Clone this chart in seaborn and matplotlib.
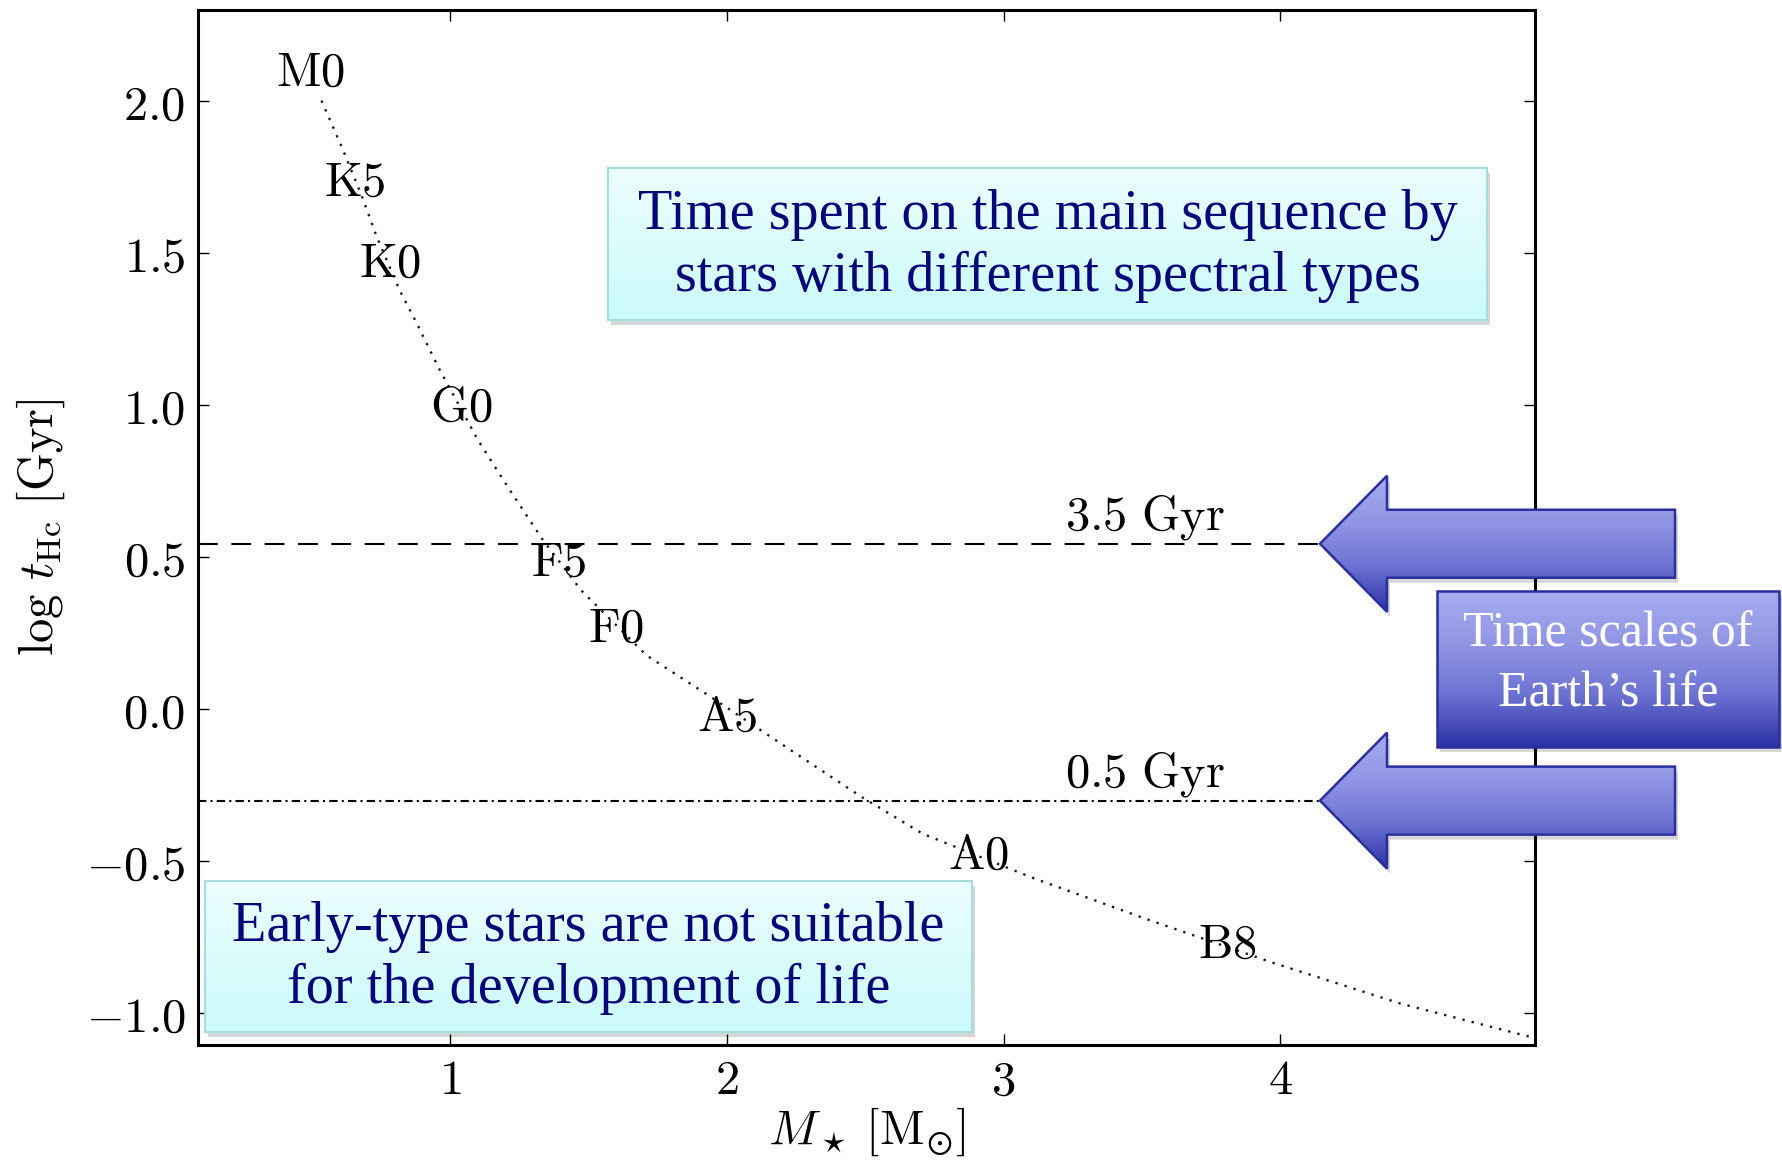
import numpy as np
import matplotlib
matplotlib.use("Agg")
import matplotlib.pyplot as plt
import seaborn as sns
from matplotlib.patches import Polygon
from matplotlib.colors import LinearSegmentedColormap
from matplotlib.ticker import FixedLocator, FuncFormatter

# ---------------- data ----------------
mass = [0.536, 0.609, 0.681, 0.736, 0.819, 0.881, 0.958, 1.102, 1.217, 1.337,
        1.475, 1.710, 1.926, 2.248, 2.489, 2.708, 3.099, 3.514, 3.975, 4.435, 4.906]
log_t = [2.002, 1.850, 1.690, 1.553, 1.377, 1.268, 1.125, 0.884, 0.720, 0.555,
         0.390, 0.177, 0.050, -0.145, -0.290, -0.410, -0.553, -0.690, -0.835, -0.969, -1.079]

spec_types = ["M0", "K5", "K0", "G0", "F5", "F0", "A5", "A0", "B8"]
spec_mass = [0.498, 0.657, 0.783, 1.04, 1.394, 1.599, 2.0, 2.91, 3.81]
spec_logt = [2.095, 1.734, 1.466, 0.993, 0.484, 0.265, -0.027, -0.481, -0.775]

life_gyr = [3.5, 0.5]
life_labels = ["3.5 Gyr", "0.5 Gyr"]
life_label_mass = [3.51, 3.51]
life_label_logt = [0.63, -0.215]

xticks = [1, 2, 3, 4]
yticks = [-1.0, -0.5, 0.0, 0.5, 1.0, 1.5, 2.0]

top_note = "Time spent on the main sequence by\nstars with different spectral types"
bottom_note = "Early-type stars are not suitable\nfor the development of life"
side_note = "Time scales of\nEarth\u2019s life"

# ---------------- style ----------------
sns.set_style("ticks")
plt.rcParams["mathtext.fontset"] = "cm"
plt.rcParams["font.family"] = ["DejaVu Serif"]
plt.rcParams["text.color"] = "black"
plt.rcParams["axes.labelcolor"] = "black"
plt.rcParams["xtick.color"] = "black"
plt.rcParams["ytick.color"] = "black"

W, H = 1782, 1162
fig = plt.figure(figsize=(W / 100, H / 100), dpi=100)
fig.patch.set_facecolor("white")

ax_l, ax_r, ax_t, ax_b = 198, 1535, 10, 1045
ax = fig.add_axes([ax_l / W, 1 - ax_b / H, (ax_r - ax_l) / W, (ax_b - ax_t) / H])

sns.lineplot(x=mass, y=log_t, ax=ax, color="#1a1a1a", lw=1.7,
             linestyle=(0, (1, 3)), sort=False, estimator=None)

styles = [(0, (9.5, 6.5)), (0, (4, 2, 1, 2))]
for v, ls in zip(life_gyr, styles):
    ax.axhline(np.log10(v), color="black", lw=1.5, linestyle=ls, zorder=1)

for s, x, y in zip(spec_types, spec_mass, spec_logt):
    ax.text(x, y, r"$\mathrm{%s}$" % s, fontsize=35, ha="center", va="center",
            color="black")

for lab, x, y in zip(life_labels, life_label_mass, life_label_logt):
    ax.text(x, y, r"$\mathrm{%s}$" % lab.replace(" ", r"\ "), fontsize=35,
            ha="center", va="center", color="black")

ax.set_xlim(0.09, 4.92)
ax.set_ylim(-1.105, 2.30)
ax.xaxis.set_major_locator(FixedLocator(xticks))
ax.yaxis.set_major_locator(FixedLocator(yticks))
ax.xaxis.set_major_formatter(FuncFormatter(lambda v, p: r"$%d$" % round(v)))
ax.yaxis.set_major_formatter(FuncFormatter(lambda v, p: r"$%.1f$" % v))
ax.tick_params(direction="in", length=8, width=1.0, top=True, right=True,
               labelsize=35, pad=9, colors="black")
for sp in ax.spines.values():
    sp.set_linewidth(2.2)
    sp.set_color("black")

xlab = r"$M_\star\;[\mathrm{M}_{" + "\u2299" + r"}]$"
ax.set_xlabel(xlab, fontsize=35)
ax.set_ylabel(r"$\log\,t_{\rm Hc}\ [\mathrm{Gyr}]$", fontsize=35)
ax.xaxis.set_label_coords(0.5, -0.058)
ax.yaxis.set_label_coords(-0.098, 0.5)

# ---------------- overlay (annotation graphics in pixel coords) ----------------
ov = fig.add_axes([0, 0, 1, 1], zorder=10)
ov.set_facecolor("none")
ov.axis("off")


def grad_shape(verts, colors, edge, lw, z, shadow=False):
    xs = [p[0] for p in verts]
    ys = [p[1] for p in verts]
    if shadow:
        sh = [(px + 3, py + 5) for px, py in verts]
        ov.add_patch(Polygon(sh, closed=True, facecolor=(0, 0, 0, 0.16),
                             edgecolor="none", zorder=z - 1))
    cmap = LinearSegmentedColormap.from_list("g", colors)
    grad = np.linspace(0, 1, 256).reshape(-1, 1)
    im = ov.imshow(grad, cmap=cmap, extent=(min(xs), max(xs), max(ys), min(ys)),
                   aspect="auto", origin="upper", zorder=z, interpolation="bilinear")
    clip = Polygon(verts, closed=True, transform=ov.transData)
    im.set_clip_path(clip)
    ov.add_patch(Polygon(verts, closed=True, facecolor="none", edgecolor=edge,
                         lw=lw, zorder=z + 1))


def rect(x0, y0, x1, y1):
    return [(x0, y0), (x1, y0), (x1, y1), (x0, y1)]


cyan = ["#ecfefe", "#dcfcfc", "#cbfafa"]
blue = ["#a7abf0", "#9196e4", "#6d72d2", "#2b31a6"]

# text boxes
grad_shape(rect(608, 168, 1487, 320), cyan, "#a6dcdc", 1.5, 5, shadow=True)
ov.text((608 + 1487) / 2, 246, top_note, family="Liberation Serif", fontsize=40.5,
        color="#07077a", ha="center", va="center", linespacing=1.22, zorder=8)

grad_shape(rect(205, 881, 972, 1032), cyan, "#a6dcdc", 1.5, 5, shadow=True)
ov.text((205 + 972) / 2, 958, bottom_note, family="Liberation Serif", fontsize=40.5,
        color="#07077a", ha="center", va="center", linespacing=1.22, zorder=8)

# arrows tied to the time-scale lines
tip_x, head_x, end_x = 1320, 1387, 1675
body_h, head_h = 34, 68
for v in life_gyr:
    yc = H - ax.transData.transform((1.0, np.log10(v)))[1]
    verts = [(tip_x, yc), (head_x, yc - head_h), (head_x, yc - body_h),
             (end_x, yc - body_h), (end_x, yc + body_h), (head_x, yc + body_h),
             (head_x, yc + head_h)]
    grad_shape(verts, blue, "#2a2f9c", 1.8, 12, shadow=True)

grad_shape(rect(1437, 591, 1779, 747), blue, "#2a2f9c", 1.8, 15, shadow=True)
ov.text((1437 + 1779) / 2, 664, side_note, family="Liberation Serif", fontsize=36,
        color="white", ha="center", va="center", linespacing=1.38, zorder=18)

ov.set_xlim(0, W)
ov.set_ylim(H, 0)

fig.savefig("out.png", dpi=100, facecolor="white")
